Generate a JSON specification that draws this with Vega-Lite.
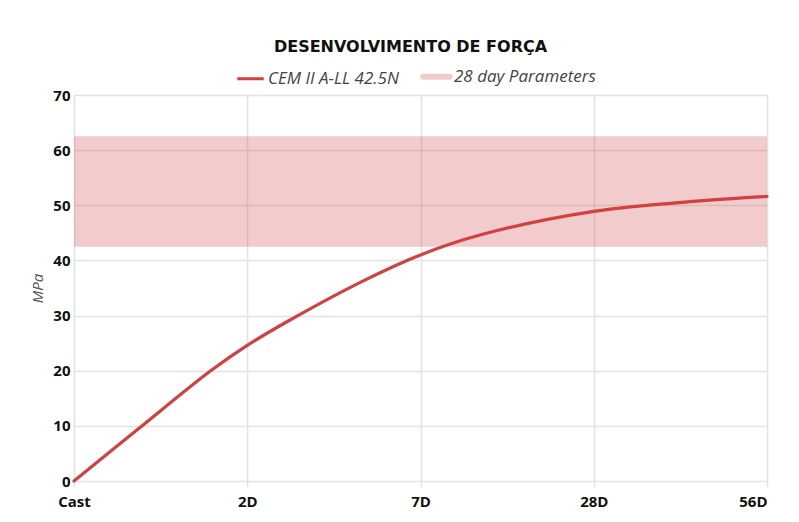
{
  "$schema": "https://vega.github.io/schema/vega-lite/v6.json",
  "width": 693,
  "height": 386,
  "autosize": {"type": "none"},
  "padding": {"left": 74, "top": 95, "right": 32, "bottom": 41},
  "background": "white",
  "title": {
    "text": "DESENVOLVIMENTO DE FORÇA",
    "font": "DejaVu Sans",
    "fontSize": 16,
    "fontWeight": "bold",
    "color": "#111111",
    "anchor": "middle",
    "dx": -10,
    "offset": 13
  },
  "datasets": {
    "curve": [
      {"t": 0, "mpa": 0, "series": "CEM II A-LL 42.5N"},
      {"t": 0.381, "mpa": 9.7, "series": "CEM II A-LL 42.5N"},
      {"t": 0.785, "mpa": 19.9, "series": "CEM II A-LL 42.5N"},
      {"t": 1, "mpa": 24.6, "series": "CEM II A-LL 42.5N"},
      {"t": 1.247, "mpa": 29.2, "series": "CEM II A-LL 42.5N"},
      {"t": 1.67, "mpa": 36.3, "series": "CEM II A-LL 42.5N"},
      {"t": 2, "mpa": 41.0, "series": "CEM II A-LL 42.5N"},
      {"t": 2.343, "mpa": 44.6, "series": "CEM II A-LL 42.5N"},
      {"t": 3, "mpa": 48.9, "series": "CEM II A-LL 42.5N"},
      {"t": 3.613, "mpa": 50.8, "series": "CEM II A-LL 42.5N"},
      {"t": 4, "mpa": 51.6, "series": "CEM II A-LL 42.5N"}
    ],
    "band": [
      {"lo": 42.5, "hi": 62.5, "series": "28 day Parameters"}
    ]
  },
  "layer": [
    {
      "data": {"name": "band"},
      "mark": {"type": "rect"},
      "encoding": {
        "y": {"field": "lo", "type": "quantitative", "scale": {"domain": [0, 70]}},
        "y2": {"field": "hi"},
        "color": {"field": "series", "type": "nominal"}
      }
    },
    {
      "data": {"name": "curve"},
      "mark": {"type": "line", "interpolate": "catmull-rom", "strokeWidth": 3.2, "strokeCap": "round"},
      "encoding": {
        "x": {
          "field": "t",
          "type": "quantitative",
          "scale": {"domain": [0, 4], "nice": false, "zero": false},
          "axis": {
            "values": [0, 1, 2, 3, 4],
            "labelExpr": "['Cast','2D','7D','28D','56D'][datum.value]",
            "title": null,
            "labelAlign": {"condition": {"test": "datum.value == 4", "value": "right"}, "value": "center"},
            "labelPadding": 7,
            "tickSize": 6,
            "ticks": true
          }
        },
        "y": {
          "field": "mpa",
          "type": "quantitative",
          "scale": {"domain": [0, 70], "nice": false},
          "axis": {
            "values": [0, 10, 20, 30, 40, 50, 60, 70],
            "title": "MPa",
            "ticks": false,
            "labelPadding": 4,
            "titlePadding": 7,
            "titleFont": "Open Sans",
            "titleFontStyle": "italic",
            "titleFontWeight": "normal",
            "titleFontSize": 15,
            "titleColor": "#555555"
          }
        },
        "color": {
          "field": "series",
          "type": "nominal",
          "scale": {
            "domain": ["CEM II A-LL 42.5N", "28 day Parameters"],
            "range": ["#d0413f", "rgba(212,82,88,0.3)"]
          },
          "legend": {
            "title": null,
            "orient": "none",
            "direction": "horizontal",
            "legendX": 168,
            "legendY": -27,
            "symbolType": "stroke",
            "symbolSize": 700,
            "columnPadding": 12,
            "labelFont": "Open Sans",
            "labelFontStyle": "italic",
            "labelFontSize": 17,
            "labelColor": "#444444",
            "labelOffset": 9,
            "encode": {
              "symbols": {
                "update": {
                  "stroke": {"signal": "scale('color', datum.value)"},
                  "fill": {"value": "transparent"},
                  "strokeWidth": {"signal": "datum.value === '28 day Parameters' ? 6 : 3"},
                  "strokeCap": {"signal": "datum.value === '28 day Parameters' ? 'round' : 'butt'"},
                  "opacity": {"value": 1}
                }
              }
            }
          }
        }
      }
    }
  ],
  "config": {
    "view": {"stroke": null},
    "axis": {
      "grid": true,
      "gridColor": "#e3e3e3",
      "gridWidth": 1.6,
      "domain": false,
      "tickColor": "#e3e3e3",
      "tickWidth": 1.6,
      "labelFont": "Open Sans",
      "labelFontWeight": "bold",
      "labelFontSize": 15,
      "labelColor": "#111111"
    }
  }
}
